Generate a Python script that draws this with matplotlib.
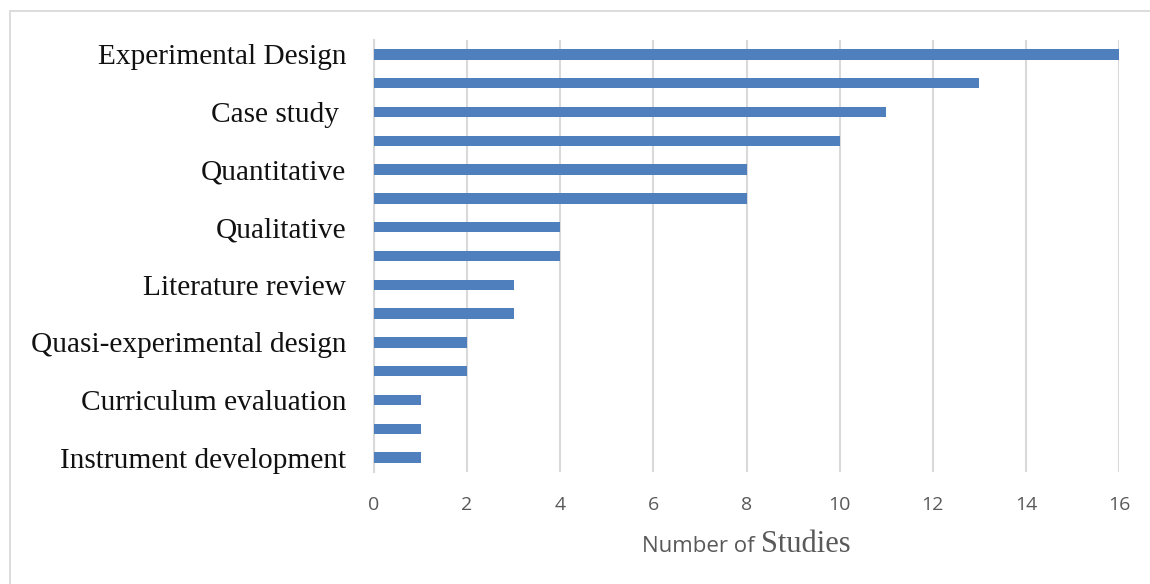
import matplotlib
matplotlib.use("Agg")
import matplotlib.pyplot as plt
from matplotlib.patches import Rectangle

# Study designs, listed top to bottom; blank entries have no visible axis label
categories = [
    "Experimental Design", "", "Case study ", "", "Quantitative", "",
    "Qualitative", "", "Literature review", "", "Quasi-experimental design",
    "", "Curriculum evaluation", "", "Instrument development",
]
studies = [16, 13, 11, 10, 8, 8, 4, 4, 3, 3, 2, 2, 1, 1, 1]
x_ticks = [0, 2, 4, 6, 8, 10, 12, 14, 16]

BAR_COLOR = "#4f80bd"
GRID_COLOR = "#d9d9d9"
TICK_COLOR = "#595959"

fig = plt.figure(figsize=(11.5, 5.84), dpi=100)
fig.patch.set_facecolor("white")

# Light chart-area frame (left and top edges visible)
fig.patches.append(Rectangle((10 / 1150, -0.1), 1.2, 1 - 11 / 584 + 0.1,
                             transform=fig.transFigure, fill=False,
                             edgecolor=GRID_COLOR, linewidth=1.3))

ax = fig.add_axes([374 / 1150, 1 - 472 / 584, (1119 - 374) / 1150, (472 - 40) / 584])

positions = list(range(len(categories)))
ax.barh(positions, studies, height=0.36, color=BAR_COLOR, zorder=3)

ax.set_xlim(0, 16)
ax.set_ylim(len(categories) - 0.5, -0.5)
ax.set_xticks(x_ticks)
ax.set_xticklabels([str(t) for t in x_ticks], fontfamily="Open Sans",
                   fontsize=14, color=TICK_COLOR)
ax.set_yticks(positions)
ax.set_yticklabels(categories, fontfamily="Liberation Serif", fontsize=21.2,
                   color="#111111")
ax.tick_params(axis="x", length=0, pad=17.5)
ax.tick_params(axis="y", length=0, pad=20)

ax.grid(axis="x", color=GRID_COLOR, linewidth=1.5, zorder=0)
ax.set_axisbelow(True)
for side in ("top", "right", "bottom"):
    ax.spines[side].set_visible(False)
ax.spines["left"].set_color(GRID_COLOR)
ax.spines["left"].set_linewidth(1.5)

# Axis title set in two typefaces
fig.canvas.draw()
renderer = fig.canvas.get_renderer()
t1 = fig.text(0, 0, "Number of ", fontfamily="Open Sans", fontsize=16,
              color=TICK_COLOR, va="baseline")
t2 = fig.text(0, 0, "Studies", fontfamily="Liberation Serif", fontsize=22,
              color=TICK_COLOR, va="baseline")
w1 = t1.get_window_extent(renderer).width
w2 = t2.get_window_extent(renderer).width
center_px = (374 + 1119) / 2
baseline_y = 1 - 552 / 584
x0 = center_px - (w1 + w2) / 2
t1.set_position((x0 / 1150, baseline_y))
t2.set_position(((x0 + w1) / 1150, baseline_y))

fig.savefig("out.png", dpi=100, facecolor="white")
